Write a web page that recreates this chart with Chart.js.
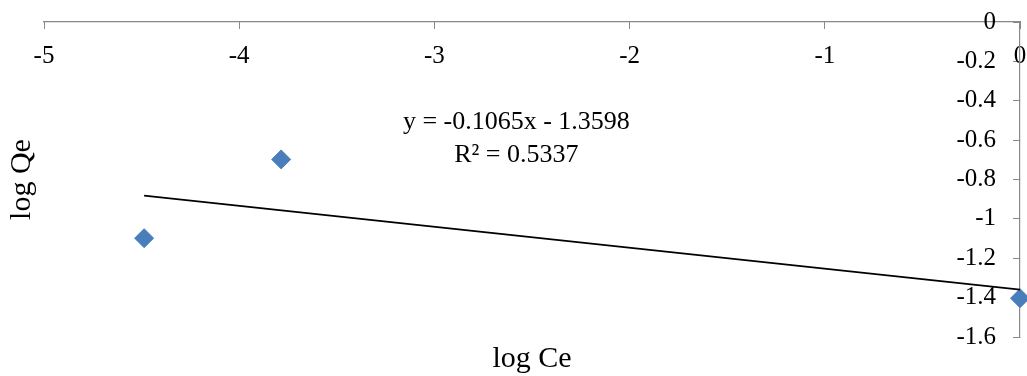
<!DOCTYPE html>
<html>
<head>
<meta charset="utf-8">
<script src="https://cdn.jsdelivr.net/npm/chart.js@4/dist/chart.umd.min.js"></script>
<style>
  html, body { margin: 0; padding: 0; background: #ffffff; }
  #wrap { width: 1027px; height: 376px; }
</style>
</head>
<body>
<div id="wrap"><canvas id="chart" width="1027" height="376"></canvas></div>
<script>
// Freundlich isotherm: log Qe against log Ce
const logCe = [-4.487, -3.785, 0];
const logQe = [-1.098, -0.698, -1.403];

// Linear fit reported for the data
const trendSlope = -0.1065;
const trendIntercept = -1.3598;
const rSquared = 0.5337;

// Axis ticks
const xTicks = [-5, -4, -3, -2, -1, 0];
const yTicks = [0, -0.2, -0.4, -0.6, -0.8, -1, -1.2, -1.4, -1.6];

const serif = '"Liberation Serif", "Times New Roman", serif';
const axisGrey = '#898989';
const markerBlue = '#4A7EBB';

// Fit line spans the measured log Ce range
const fitXs = [Math.min(...logCe), Math.max(...logCe)];
const fitLine = fitXs.map(x => ({ x: x, y: trendSlope * x + trendIntercept }));
const points = logCe.map((x, i) => ({ x: x, y: logQe[i] }));

const fmt = v => String(Number(v.toFixed(2)));
const eqLines = [
  'y = ' + trendSlope.toFixed(4) + 'x ' + (trendIntercept < 0 ? '- ' : '+ ') + Math.abs(trendIntercept).toFixed(4),
  'R\u00B2 = ' + rSquared.toFixed(4)
];

// Draws the fit equation and R² in data coordinates
const equationLabel = {
  id: 'equationLabel',
  afterDatasetsDraw(chart, args, opts) {
    const { ctx, scales } = chart;
    const px = scales.x.getPixelForValue(opts.x);
    const py = scales.y.getPixelForValue(opts.y);
    ctx.save();
    ctx.font = opts.size + 'px ' + serif;
    ctx.fillStyle = '#000000';
    ctx.textAlign = 'center';
    ctx.textBaseline = 'middle';
    opts.lines.forEach((t, i) => ctx.fillText(t, px, py + i * opts.gap));
    ctx.restore();
  }
};

// Axis boxes take no layout room; the layout padding places the plot area
const noRoom = s => {
  if (s.isHorizontal()) { s.height = 0; } else { s.width = 0; }
  s.paddingTop = 0; s.paddingBottom = 0; s.paddingLeft = 0; s.paddingRight = 0;
};

new Chart(document.getElementById('chart'), {
  type: 'scatter',
  data: {
    datasets: [
      {
        label: 'log Qe',
        data: points,
        pointStyle: 'rectRot',
        pointRadius: 9.5,
        pointHoverRadius: 9.5,
        backgroundColor: markerBlue,
        borderColor: markerBlue,
        borderWidth: 1,
        clip: false,
        order: 2
      },
      {
        label: 'Linear fit',
        data: fitLine,
        showLine: true,
        borderColor: '#000000',
        borderWidth: 1.8,
        pointRadius: 0,
        pointHoverRadius: 0,
        fill: false,
        clip: false,
        order: 1
      }
    ]
  },
  options: {
    responsive: false,
    animation: false,
    events: [],
    layout: { autoPadding: false, padding: { top: 22, right: 7, bottom: 0, left: 0 } },
    scales: {
      x: {
        type: 'linear',
        position: 'top',
        min: -5,
        max: 0,
        afterBuildTicks: s => { s.ticks = xTicks.map(v => ({ value: v })); },
        afterFit: noRoom,
        ticks: {
          mirror: true,
          padding: 19,
          maxRotation: 0,
          autoSkip: false,
          color: '#000000',
          font: { family: serif, size: 25 },
          callback: v => fmt(v)
        },
        grid: { drawOnChartArea: false, drawTicks: true, tickLength: -7, color: axisGrey, lineWidth: 1 },
        border: { display: true, color: axisGrey, width: 1.2 }
      },
      y: {
        type: 'linear',
        position: 'right',
        min: -1.6,
        max: 0,
        afterBuildTicks: s => { s.ticks = yTicks.map(v => ({ value: v })); },
        afterFit: noRoom,
        ticks: {
          mirror: true,
          padding: -24,
          autoSkip: false,
          color: '#000000',
          font: { family: serif, size: 25 },
          callback: v => fmt(v)
        },
        grid: { drawOnChartArea: false, drawTicks: true, tickLength: -7, color: axisGrey, lineWidth: 1 },
        border: { display: true, color: axisGrey, width: 1.2 }
      }
    },
    plugins: {
      legend: { display: false },
      tooltip: { enabled: false },
      title: {
        display: true,
        text: 'log Qe',
        position: 'left',
        fullSize: false,
        color: '#000000',
        font: { family: serif, size: 30, weight: 'normal', lineHeight: 1.1 },
        padding: { top: 6, bottom: 5 }
      },
      subtitle: {
        display: true,
        text: 'log Ce',
        position: 'bottom',
        fullSize: false,
        color: '#000000',
        font: { family: serif, size: 30, weight: 'normal', lineHeight: 1.1 },
        padding: { top: 6, bottom: 0 }
      },
      equationLabel: { x: -2.58, y: -0.508, lines: eqLines, size: 26, gap: 33 }
    }
  },
  plugins: [equationLabel]
});
</script>
</body>
</html>
